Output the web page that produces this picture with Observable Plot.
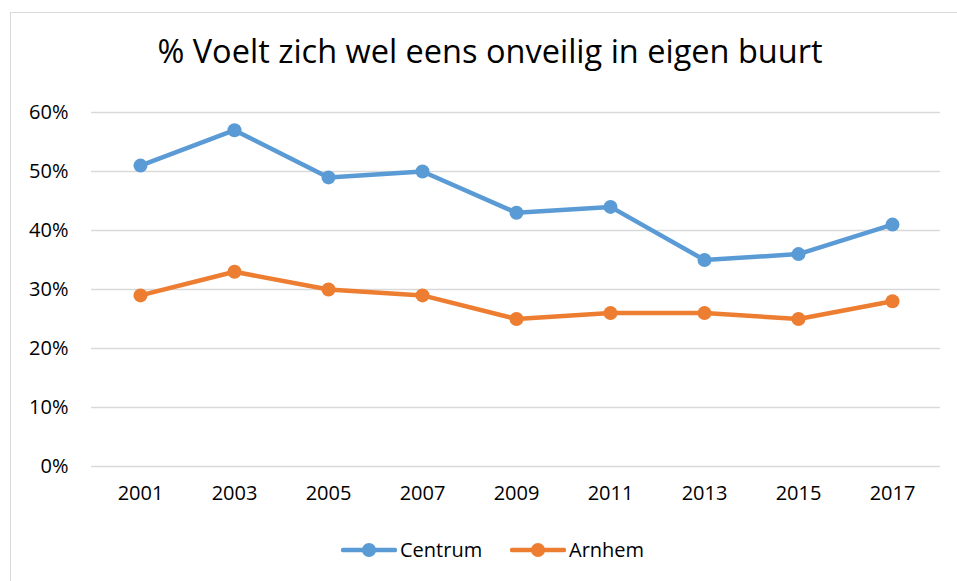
<!DOCTYPE html>
<html>
<head>
<meta charset="utf-8">
<script src="https://cdn.jsdelivr.net/npm/d3@7"></script>
<script src="https://cdn.jsdelivr.net/npm/@observablehq/plot@0.6"></script>
<style>
  body { margin: 0; background: #fff; }
  #wrap { position: relative; width: 957px; height: 581px; overflow: hidden; font-family: "Open Sans", sans-serif; }
  #frame { position: absolute; left: 10px; top: 12px; width: 980px; height: 600px; border: 1.5px solid #d9d9d9; box-sizing: border-box; }
  #title { position: absolute; left: 10px; width: 960px; top: 28px; text-align: center; font-size: 32.5px; color: #000; white-space: nowrap; }
  #chart { position: absolute; left: 0; top: 0; }
  #legend { position: absolute; top: 536px; left: 0; width: 957px; height: 26px; }
  .item { position: absolute; top: 0; display: flex; align-items: center; font-size: 20px; color: #000; }
  .item svg { margin-right: 3px; }
</style>
</head>
<body>
<div id="wrap">
  <div id="frame"></div>
  <div id="title">% Voelt zich wel eens onveilig in eigen buurt</div>
  <div id="chart"></div>
  <div id="legend"></div>
</div>
<script>
const years = ["2001","2003","2005","2007","2009","2011","2013","2015","2017"];
const centrum = [51, 57, 49, 50, 43, 44, 35, 36, 41];
const arnhem = [29, 33, 30, 29, 25, 26, 26, 25, 28];
const seriesNames = ["Centrum", "Arnhem"];
const seriesColors = ["#5B9BD5", "#ED7D31"];
const yTicks = [0, 10, 20, 30, 40, 50, 60];

const data = [];
years.forEach((y, i) => {
  data.push({year: y, value: centrum[i], series: "Centrum"});
  data.push({year: y, value: arnhem[i], series: "Arnhem"});
});

const plot = Plot.plot({
  width: 957,
  height: 520,
  marginTop: 112,
  marginBottom: 54,
  marginLeft: 91,
  marginRight: 17,
  style: {fontFamily: "Open Sans, sans-serif", fontSize: "20px", color: "#000", background: "transparent"},
  x: {type: "point", domain: years, padding: 0.5, label: null},
  y: {domain: [0, 60], ticks: yTicks, label: null, tickFormat: d => d + "%"},
  color: {domain: seriesNames, range: seriesColors},
  marks: [
    Plot.ruleY(yTicks, {stroke: "#d9d9d9", strokeWidth: 1.5}),
    Plot.axisY({ticks: yTicks, tickSize: 0, tickPadding: 23, tickFormat: d => d + "%", label: null}),
    Plot.axisX({tickSize: 0, tickPadding: 19, label: null}),
    Plot.line(data, {x: "year", y: "value", stroke: "series", z: "series", strokeWidth: 4.5, strokeLinejoin: "round"}),
    Plot.dot(data, {x: "year", y: "value", fill: "series", r: 7})
  ]
});
document.getElementById("chart").appendChild(plot);

const legend = document.getElementById("legend");
const legendX = [341, 510];
seriesNames.forEach((name, i) => {
  const item = document.createElement("div");
  item.className = "item";
  item.style.left = legendX[i] + "px";
  item.innerHTML = `<svg width="56" height="26"><line x1="2" x2="54" y1="13" y2="13" stroke="${seriesColors[i]}" stroke-width="4.5" stroke-linecap="round"/><circle cx="28" cy="13" r="7" fill="${seriesColors[i]}"/></svg><span>${name}</span>`;
  legend.appendChild(item);
});
</script>
</body>
</html>
